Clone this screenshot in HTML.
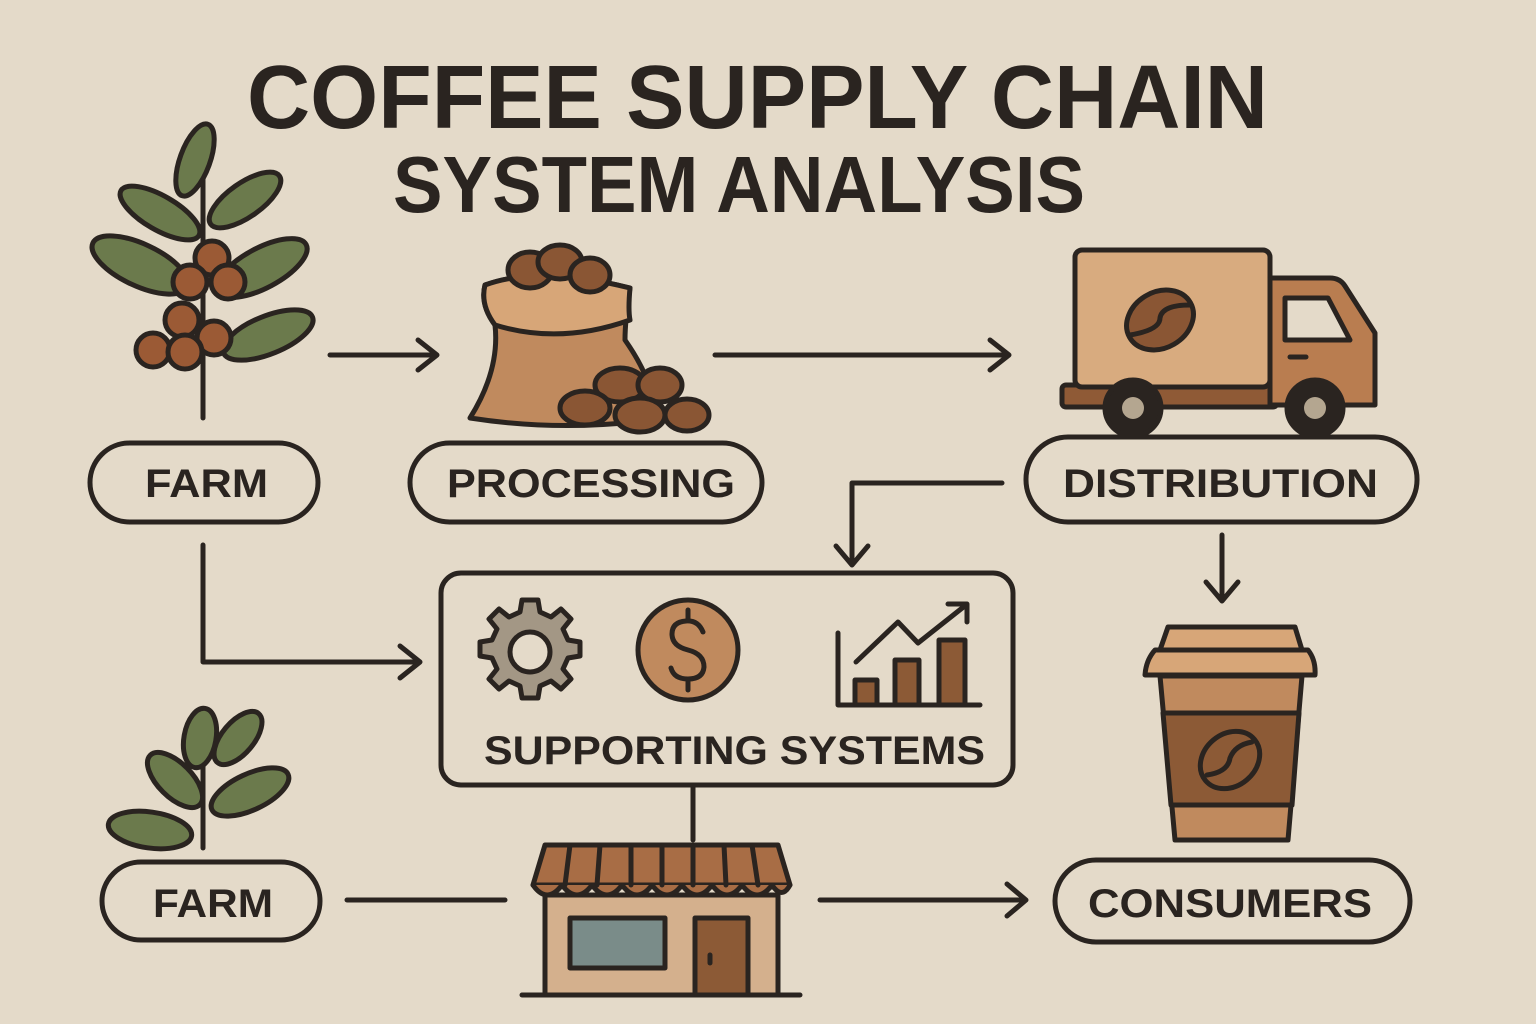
<!DOCTYPE html>
<html><head><meta charset="utf-8"><style>html,body{margin:0;padding:0;background:#e4dac9}svg{display:block}</style></head>
<body>
<svg width="1536" height="1024" viewBox="0 0 1536 1024" xmlns="http://www.w3.org/2000/svg" font-family="Liberation Sans, sans-serif" font-weight="bold">
<rect width="1536" height="1024" fill="#e4dac9"/>
<g fill="#2a2420">
<text x="247" y="128" font-size="90" textLength="1021" lengthAdjust="spacingAndGlyphs">COFFEE SUPPLY CHAIN</text>
<text x="393" y="212" font-size="80" textLength="692" lengthAdjust="spacingAndGlyphs">SYSTEM ANALYSIS</text>
</g>
<g stroke="#2a2420" stroke-width="5" stroke-linecap="round" stroke-linejoin="round" fill="none">
<!-- plant 1 -->
<line x1="203" y1="175" x2="203" y2="418"/>
<g fill="#6b7a4c">
<ellipse cx="195" cy="160" rx="38" ry="15" transform="rotate(-70 195 160)"/>
<ellipse cx="160" cy="213" rx="45" ry="17" transform="rotate(30 160 213)"/>
<ellipse cx="245" cy="200" rx="42" ry="17" transform="rotate(-35 245 200)"/>
<ellipse cx="140" cy="265" rx="52" ry="21" transform="rotate(25 140 265)"/>
<ellipse cx="262" cy="268" rx="50" ry="20" transform="rotate(-28 262 268)"/>
<ellipse cx="268" cy="335" rx="48" ry="19" transform="rotate(-22 268 335)"/>
</g>
<g fill="#9b5a35">
<circle cx="212" cy="258" r="17"/><circle cx="190" cy="282" r="17"/><circle cx="228" cy="282" r="17"/>
<circle cx="182" cy="320" r="17"/><circle cx="214" cy="338" r="17"/><circle cx="153" cy="350" r="17"/><circle cx="185" cy="352" r="17"/>
</g>
<!-- plant 2 -->
<line x1="203" y1="760" x2="203" y2="848"/>
<g fill="#6b7a4c">
<ellipse cx="200" cy="738" rx="30" ry="16" transform="rotate(-80 200 738)"/>
<ellipse cx="238" cy="738" rx="32" ry="16" transform="rotate(-50 238 738)"/>
<ellipse cx="175" cy="780" rx="35" ry="17" transform="rotate(45 175 780)"/>
<ellipse cx="250" cy="792" rx="42" ry="18" transform="rotate(-25 250 792)"/>
<ellipse cx="150" cy="830" rx="42" ry="18" transform="rotate(8 150 830)"/>
</g>
<!-- bag -->
<path d="M485 285 Q540 265 630 288 Q625 320 625 340 Q660 390 650 420 Q560 432 470 418 Q500 370 495 325 Q480 305 485 285Z" fill="#c08a5e"/>
<path d="M485 285 Q540 265 630 288 Q628 310 630 320 Q560 345 495 325 Q480 305 485 285Z" fill="#d7a678"/>
<g fill="#8a5634">
<ellipse cx="530" cy="270" rx="22" ry="18"/><ellipse cx="560" cy="262" rx="22" ry="17"/><ellipse cx="590" cy="275" rx="20" ry="17"/>
<ellipse cx="620" cy="385" rx="25" ry="17"/><ellipse cx="660" cy="385" rx="22" ry="17"/>
<ellipse cx="585" cy="408" rx="25" ry="17"/><ellipse cx="640" cy="415" rx="25" ry="17"/><ellipse cx="687" cy="415" rx="22" ry="16"/>
</g>
<!-- truck -->
<rect x="1062" y="385" width="215" height="22" rx="4" fill="#8f5a36"/>
<rect x="1075" y="250" width="195" height="137" rx="7" fill="#d8ab7f"/>
<path d="M1270 278 H1330 Q1340 278 1345 286 L1375 333 V405 H1270Z" fill="#b97d50"/>
<path d="M1285 298 H1328 L1350 340 H1285Z" fill="#e4dac9"/>
<line x1="1290" y1="357" x2="1306" y2="357"/>
<ellipse cx="1160" cy="320" rx="35" ry="28" fill="#8a5634" transform="rotate(-30 1160 320)"/>
<path d="M1130 335 Q1160 330 1160 318 Q1162 305 1190 305"/>
<circle cx="1133" cy="408" r="28" fill="#2a2420"/><circle cx="1133" cy="408" r="11" fill="#b4a690" stroke="none"/>
<circle cx="1315" cy="408" r="28" fill="#2a2420"/><circle cx="1315" cy="408" r="11" fill="#b4a690" stroke="none"/>
<!-- cup -->
<path d="M1160 676 H1302 L1288 840 H1175Z" fill="#c08a5e"/>
<path d="M1163 713 H1299 L1292 805 H1171Z" fill="#8c5a36"/>
<path d="M1168 627 H1295 L1302 650 H1160Z" fill="#d7a678"/>
<path d="M1155 650 H1308 Q1316 660 1315 675 H1145 Q1146 660 1155 650Z" fill="#d7a678"/>
<ellipse cx="1230" cy="760" rx="32" ry="26" fill="none" transform="rotate(-40 1230 760)"/>
<path d="M1207 775 Q1228 772 1230 758 Q1235 745 1252 742"/>
<!-- support box -->
<rect x="441" y="573" width="572" height="212" rx="20" fill="none"/>
<path d="M530 600 l8 0 2 12 11 5 10 -8 10 10 -8 10 5 11 12 2 0 14 -12 2 -5 11 8 10 -10 10 -10 -8 -11 5 -2 12 -16 0 -2 -12 -11 -5 -10 8 -10 -10 8 -10 -5 -11 -12 -2 0 -14 12 -2 5 -11 -8 -10 10 -10 10 8 11 -5 2 -12Z" fill="#a39785"/>
<circle cx="530" cy="652" r="20" fill="#e4dac9"/>
<circle cx="688" cy="650" r="50" fill="#c08a5e"/>
<path d="M703 632 Q698 620 686 621 Q672 622 672 634 Q672 646 688 650 Q704 654 704 667 Q703 679 688 679 Q674 679 671 668"/>
<line x1="688" y1="610" x2="688" y2="620"/><line x1="688" y1="680" x2="688" y2="690"/>
<path d="M838 633 V705 H980"/>
<rect x="855" y="680" width="22" height="25" fill="#8c5a36"/>
<rect x="895" y="660" width="24" height="45" fill="#8c5a36"/>
<rect x="939" y="640" width="26" height="65" fill="#8c5a36"/>
<path d="M856 662 L898 622 L918 643 L966 605"/><path d="M948 604 H967 V622"/>
<!-- store -->
<rect x="545" y="895" width="233" height="100" fill="#d4b08d"/>
<rect x="570" y="918" width="95" height="50" fill="#7a8c89"/>
<rect x="695" y="918" width="53" height="77" fill="#8c5a36"/>
<line x1="710" y1="955" x2="710" y2="963"/>
<line x1="522" y1="995" x2="800" y2="995"/>
<path d="M545 845 H778 L790 885 H533Z" fill="#a86d45"/>
<path d="M533 885 Q547 905 562 885 Q577 905 592 885 Q607 905 622 885 Q637 905 652 885 Q667 905 682 885 Q697 905 712 885 Q727 905 742 885 Q757 905 772 885 Q782 900 790 885" fill="#a86d45"/>
<path d="M570 845 L565 885 M600 845 L597 885 M631 845 L631 885 M662 845 L662 885 M693 845 L693 885 M724 845 L726 885 M752 845 L758 885"/>
<!-- pills -->
<rect x="90" y="443" width="228" height="79" rx="39.5"/>
<rect x="410" y="443" width="352" height="79" rx="39.5"/>
<rect x="1026" y="437" width="391" height="85" rx="42"/>
<rect x="102" y="862" width="218" height="78" rx="39"/>
<rect x="1055" y="860" width="355" height="82" rx="41"/>
<!-- connectors -->
<line x1="330" y1="355" x2="436" y2="355"/><path d="M418 340 L437 355 L418 370"/>
<line x1="715" y1="355" x2="1008" y2="355"/><path d="M990 340 L1009 355 L990 370"/>
<path d="M1002 483 H852 V563"/><path d="M836 546 L852 565 L868 546"/>
<line x1="1222" y1="535" x2="1222" y2="600"/><path d="M1206 582 L1222 601 L1238 582"/>
<path d="M203 545 V662 H418"/><path d="M400 646 L420 662 L400 678"/>
<line x1="693" y1="787" x2="693" y2="840"/>
<line x1="347" y1="900" x2="505" y2="900"/>
<line x1="820" y1="900" x2="1025" y2="900"/><path d="M1007 884 L1026 900 L1007 916"/>
</g>
<g fill="#2a2420" font-size="40">
<text x="145" y="497" textLength="123" lengthAdjust="spacingAndGlyphs">FARM</text>
<text x="447" y="497" textLength="288" lengthAdjust="spacingAndGlyphs">PROCESSING</text>
<text x="1063" y="497" textLength="315" lengthAdjust="spacingAndGlyphs">DISTRIBUTION</text>
<text x="153" y="917" textLength="120" lengthAdjust="spacingAndGlyphs">FARM</text>
<text x="1088" y="917" textLength="284" lengthAdjust="spacingAndGlyphs">CONSUMERS</text>
<text x="484" y="764" textLength="501" lengthAdjust="spacingAndGlyphs">SUPPORTING SYSTEMS</text>
</g>
</svg>
</body></html>
